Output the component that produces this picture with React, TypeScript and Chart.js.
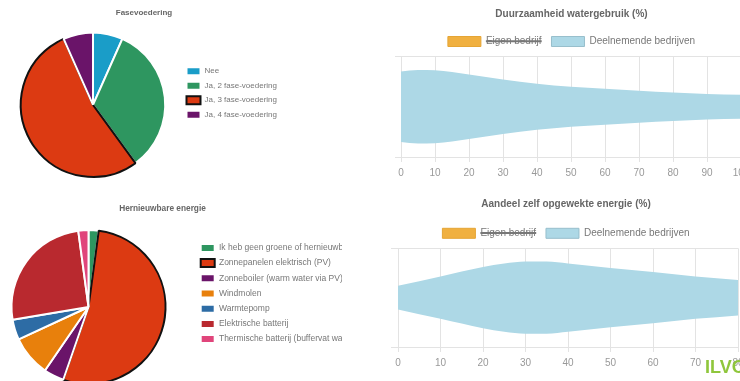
import React, { useEffect, useRef } from 'react';
import { Chart, registerables } from 'chart.js';

Chart.register(...registerables);

const FONT = "'Liberation Sans', Arial, Helvetica, sans-serif";

// ---- Pie 1: Fasevoedering ----
const faseTitle = 'Fasevoedering';
const faseLabels = ['Nee', 'Ja, 2 fase-voedering', 'Ja, 3 fase-voedering', 'Ja, 4 fase-voedering'];
const faseValues = [1, 5, 8, 1];
const faseColors = ['#1a9dc8', '#2e9660', '#dc3a12', '#6a1469'];
const faseBorders = ['#ffffff', '#ffffff', '#111111', '#ffffff'];

// ---- Pie 2: Hernieuwbare energie ----
const energyTitle = 'Hernieuwbare energie';
const energyLabels = [
  'Ik heb geen groene of hernieuwbare energie',
  'Zonnepanelen elektrisch (PV)',
  'Zonneboiler (warm water via PV)',
  'Windmolen',
  'Warmtepomp',
  'Elektrische batterij',
  'Thermische batterij (buffervat warm water)',
];
const energyValues = [1, 25, 2, 4, 2, 12, 1];
const energyColors = ['#2e9660', '#dc3a12', '#6a1469', '#e8800c', '#2d6ca5', '#b9292f', '#e0457b'];
const energyBorders = ['#ffffff', '#111111', '#ffffff', '#ffffff', '#ffffff', '#ffffff', '#ffffff'];

// ---- Violin 1: Duurzaamheid watergebruik ----
const waterTitle = 'Duurzaamheid watergebruik (%)';
const waterX = [0, 5, 10, 15, 20, 30, 40, 50, 60, 70, 80, 90, 100];
const waterDensity = [0.70, 0.73, 0.725, 0.69, 0.64, 0.54, 0.46, 0.40, 0.36, 0.32, 0.285, 0.255, 0.24];

// ---- Violin 2: Aandeel zelf opgewekte energie ----
const selfTitle = 'Aandeel zelf opgewekte energie (%)';
const selfX = [0, 10, 20, 25, 30, 35, 40, 50, 60, 70, 80];
const selfDensity = [0.24, 0.43, 0.62, 0.69, 0.73, 0.73, 0.69, 0.60, 0.52, 0.43, 0.36];

const legendOwn = 'Eigen bedrijf';
const legendAll = 'Deelnemende bedrijven';
const ORANGE = '#f0b040';
const BLUE = '#add8e6';

function pieConfig(
  labels: string[], values: number[], colors: string[], borders: string[], title: string,
  titleSize: number, titlePad: any, legendSize: number, legendPad: number, legendMax: number, layoutPad: any
) {
  return {
    type: 'pie',
    data: {
      labels,
      datasets: [{ data: values, backgroundColor: colors, borderColor: borders, borderWidth: 2, hoverOffset: 0 }],
    },
    options: {
      responsive: false,
      animation: false,
      events: [],
      layout: { padding: layoutPad },
      plugins: {
        title: { display: true, text: title, color: '#666', font: { family: FONT, size: titleSize, weight: 'bold' }, padding: titlePad },
        legend: {
          position: 'right',
          maxWidth: legendMax,
          labels: { color: '#777', font: { family: FONT, size: legendSize }, boxWidth: 14, boxHeight: 8, padding: legendPad },
        },
        tooltip: { enabled: false },
      },
    },
  };
}

function violinConfig(title: string, xs: number[], dens: number[], xMax: number, yLeft: number, yRight: number, tickLen: number, titlePad: any) {
  const upper = xs.map((x, i) => ({ x, y: dens[i] }));
  const lower = xs.map((x, i) => ({ x, y: -dens[i] }));
  const grid = '#e3e3e3';
  return {
    type: 'line',
    data: {
      datasets: [
        { label: legendOwn, data: [], hidden: true, backgroundColor: ORANGE, borderColor: ORANGE },
        { label: legendAll, data: upper, backgroundColor: BLUE, borderColor: 'rgba(0,0,0,0)', borderWidth: 0, pointRadius: 0, fill: '+1', cubicInterpolationMode: 'monotone' },
        { label: '', data: lower, backgroundColor: BLUE, borderColor: 'rgba(0,0,0,0)', borderWidth: 0, pointRadius: 0, fill: false, cubicInterpolationMode: 'monotone' },
      ],
    },
    options: {
      responsive: false,
      animation: false,
      events: [],
      layout: { padding: { bottom: 1 } },
      scales: {
        x: {
          type: 'linear', min: 0, max: xMax,
          ticks: { stepSize: 10, color: '#999', font: { family: FONT, size: 10 }, padding: 5 },
          grid: { color: grid, tickLength: 5 },
          border: { color: grid },
        },
        y: {
          type: 'linear', min: -1, max: 1,
          ticks: { display: false },
          grid: { color: grid, tickLength: tickLen },
          border: { display: false },
          afterBuildTicks: (s: any) => { s.ticks = [{ value: -1 }, { value: 1 }]; },
          afterFit: (s: any) => { s.width = yLeft; },
        },
        y2: {
          type: 'linear', position: 'right', min: -1, max: 1,
          ticks: { display: false },
          grid: { display: false },
          border: { display: false },
          afterFit: (s: any) => { s.width = yRight; },
        },
      },
      plugins: {
        title: { display: true, text: title, color: '#666', font: { family: FONT, size: 10, weight: 'bold' }, padding: titlePad },
        legend: {
          position: 'top',
          labels: {
            color: '#777',
            font: { family: FONT, size: 10 },
            boxWidth: 33,
            boxHeight: 10,
            padding: 10,
            generateLabels: () => [
              { text: legendOwn, fillStyle: ORANGE, strokeStyle: '#e5a535', fontColor: '#777', lineWidth: 1, hidden: true, datasetIndex: 0 },
              { text: legendAll, fillStyle: BLUE, strokeStyle: '#98bfcc', fontColor: '#777', lineWidth: 1, hidden: false, datasetIndex: 1 },
            ],
          },
        },
        tooltip: { enabled: false },
      },
    },
  };
}

function ChartCanvas({ config, left, top, width, height }: { config: () => any; left: number; top: number; width: number; height: number }) {
  const ref = useRef<HTMLCanvasElement>(null);
  useEffect(() => {
    if (!ref.current) return;
    const c = new Chart(ref.current, config());
    return () => c.destroy();
  }, []);
  return <canvas ref={ref} width={width} height={height} style={{ position: 'absolute', left, top, width, height }} />;
}

export default function App() {
  return (
    <div style={{ position: 'fixed', left: 0, top: 0, width: 740, height: 381, overflow: 'hidden', background: '#fff' }}>
      <ChartCanvas
        left={6} top={0} width={276} height={186}
        config={() => pieConfig(faseLabels, faseValues, faseColors, faseBorders, faseTitle, 8, { top: 0, bottom: 14 }, 8, 6.5, 102, { top: 8, bottom: 8 })}
      />
      <ChartCanvas
        left={-17} top={195} width={359} height={195}
        config={() => pieConfig(energyLabels, energyValues, energyColors, energyBorders, energyTitle, 8.3, { top: 2, bottom: 15 }, 8.5, 6.7, 148, { top: 7, bottom: 5 })}
      />
      <ChartCanvas
        left={370} top={0} width={403} height={185}
        config={() => violinConfig(waterTitle, waterX, waterDensity, 100, 31, 32, 6, { top: 8, bottom: 6.5 })}
      />
      <ChartCanvas
        left={370} top={190} width={392} height={185}
        config={() => violinConfig(selfTitle, selfX, selfDensity, 80, 28, 24, 7, { top: 8.3, bottom: 8 })}
      />
      <div style={{ position: 'absolute', left: 705, top: 358, fontFamily: FONT, fontWeight: 'bold', fontSize: 18, lineHeight: '18px', color: '#8fc63c' }}>ILVO</div>
    </div>
  );
}
